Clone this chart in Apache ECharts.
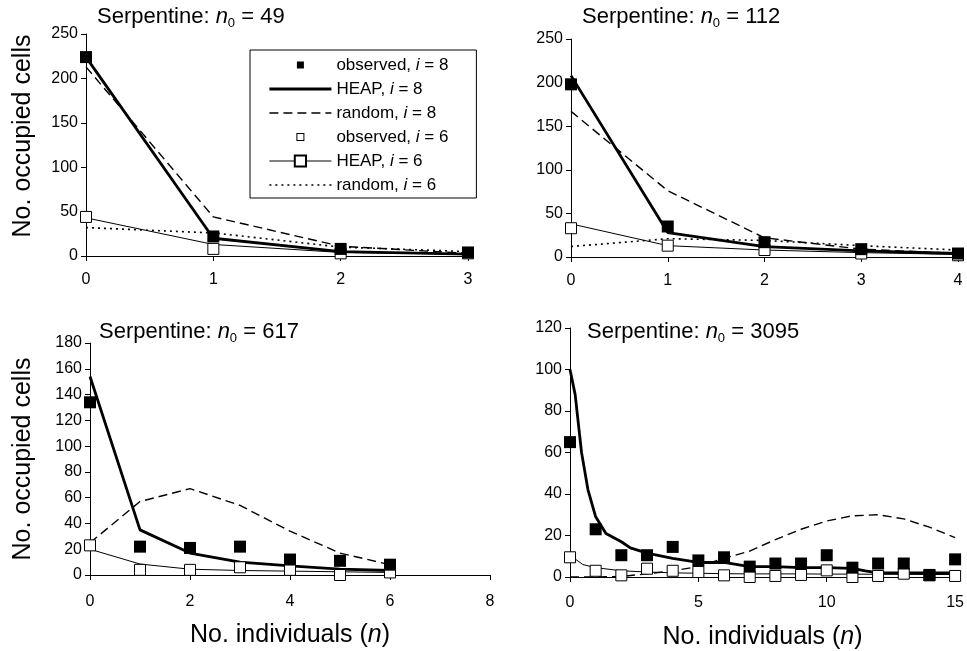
<!DOCTYPE html>
<html><head><meta charset="utf-8">
<script src="https://cdn.jsdelivr.net/npm/echarts@6/dist/echarts.min.js"></script>
<style>html,body{margin:0;padding:0;background:#fff}#c{width:967px;height:651px}</style>
</head><body><div id="c"></div>
<script>
// ---------- data ----------
const legendNames = ['observed, i = 8', 'HEAP, i = 8', 'random, i = 8', 'observed, i = 6', 'HEAP, i = 6', 'random, i = 6'];
const n0Values = [49, 112, 617, 3095];

// Panel 1 (n0 = 49)
const p1X = [0, 1, 2, 3];
const p1Obs8 = [224, 22, 8, 4];
const p1Heap8 = [224, 20, 5, 2];
const p1Rand8 = [213, 44, 11, 3];
const p1Obs6 = [44, 8, 3, 3];
const p1Heap6 = [43, 13, 4, 2];
const p1Rand6 = [32, 26, 10, 5];

// Panel 2 (n0 = 112)
const p2X = [0, 1, 2, 3, 4];
const p2Obs8 = [198, 35, 17, 9, 4];
const p2Heap8 = [208, 28, 12, 7, 4];
const p2Rand8 = [167, 76, 22, 9, 4];
const p2Obs6 = [33, 13, 8, 4, 2];
const p2Heap6 = [38, 13, 8, 5, 3];
const p2Rand6 = [12, 21, 19, 13, 8];

// Panel 3 (n0 = 617)
const p3X = [0, 1, 2, 3, 4, 5, 6];
const p3Obs8 = [134, 22, 21, 22, 12, 11, 8];
const p3Heap8 = [154, 35, 17, 10, 7, 4.5, 3.5];
const p3Rand8 = [25, 57, 67, 54, 34, 17, 8];
const p3Obs6 = [23, 4, 4, 6, 4, 0, 2];
const p3Heap6 = [20, 8.5, 4.5, 3.5, 3, 2.5, 2];

// Panel 4 (n0 = 3095)
const p4X = [0, 1, 2, 3, 4, 5, 6, 7, 8, 9, 10, 11, 12, 13, 14, 15];
const p4Obs8 = [65, 23, 10.5, 10.5, 14.5, 8, 9.5, 5, 6.5, 6.5, 10.5, 4.5, 6.5, 6.5, 1, 8.5];
const p4Rand8 = [0, 0, 0.3, 1.5, 3, 5, 9, 12.5, 18, 23, 27, 29.5, 30, 28, 24, 19];
const p4Obs6 = [9.5, 3, 0.8, 4, 3, 2.4, 0.8, 0, 0.5, 1, 3.2, 0, 0.5, 1.6, 0.8, 0.5];
const p4HeapX8 = [0, 0.2, 0.45, 0.7, 1, 1.4, 2, 2.35, 3, 4, 5, 6, 7, 8, 9, 10, 11, 11.5, 12, 13, 14, 15];
const p4Heap8 = [100, 88, 60, 42, 29, 21, 17, 14, 11.5, 9, 7, 7, 5, 5, 4.5, 4.5, 4.2, 3, 2, 2, 2, 2];
const p4HeapX6 = [0, 0.5, 1, 2, 3, 4, 5, 6, 7, 8, 9, 10, 11, 12, 13, 14, 15];
const p4Heap6 = [10.5, 6, 4.5, 3, 2.4, 2, 1.8, 1.6, 1.5, 1.5, 1.5, 1.4, 1.4, 1.3, 1.3, 1.2, 1.2];

const xMax = [3, 4, 8, 15];
const xInterval = [1, 1, 2, 5];
const yMax = [250, 250, 180, 120];
const yInterval = [50, 50, 20, 20];

// ---------- chart ----------
const FONT = 'Liberation Sans, Arial, sans-serif';
const pairs = (xs, ys) => xs.map((x, i) => [x, ys[i]]);

const grids = [
  { left: 86, top: 34, width: 382, height: 222 },
  { left: 571, top: 39, width: 387, height: 218 },
  { left: 90, top: 343, width: 400, height: 232 },
  { left: 570, top: 328, width: 387, height: 249 }
];
const xLabelMargin = [16, 16, 19, 18];

const xAxes = grids.map((g, i) => ({
  type: 'value', gridIndex: i, min: 0, max: xMax[i], interval: xInterval[i],
  axisLine: { show: true, onZero: false, lineStyle: { color: '#000', width: 1 } },
  axisTick: { show: true, length: 5, lineStyle: { color: '#000' } },
  axisLabel: { color: '#000', fontSize: 16, fontFamily: FONT, margin: xLabelMargin[i] },
  splitLine: { show: false },
  name: i >= 2 ? 'No. individuals ({it|n})' : '',
  nameLocation: 'middle', nameGap: 48,
  nameTextStyle: { fontSize: 25, color: '#000', fontFamily: FONT, rich: { it: { fontSize: 25, fontStyle: 'italic', fontFamily: FONT, color: '#000' } } }
}));

const yAxes = grids.map((g, i) => ({
  type: 'value', gridIndex: i, min: 0, max: yMax[i], interval: yInterval[i],
  axisLine: { show: true, lineStyle: { color: '#000', width: 1 } },
  axisTick: { show: true, length: 5, lineStyle: { color: '#000' } },
  axisLabel: { color: '#000', fontSize: 16, fontFamily: FONT, margin: 8 },
  splitLine: { show: false },
  name: (i === 0 || i === 2) ? 'No. occupied cells' : '',
  nameLocation: 'middle', nameGap: i === 0 ? 50 : 54,
  nameTextStyle: { fontSize: 25, color: '#000', fontFamily: FONT, padding: i === 0 ? [0, 0, 0, 18] : 0 }
}));

function lineS(name, gi, xs, ys, lineStyle, extra) {
  return Object.assign({
    type: 'line', name, xAxisIndex: gi, yAxisIndex: gi, data: pairs(xs, ys),
    symbol: 'none', lineStyle: Object.assign({ color: '#000', opacity: 1 }, lineStyle),
    itemStyle: { color: '#000', opacity: 1 }, z: 2, silent: true, animation: false
  }, extra || {});
}
function obs8S(gi, xs, ys) {
  return { type: 'scatter', name: legendNames[0], xAxisIndex: gi, yAxisIndex: gi, data: pairs(xs, ys),
    symbol: 'rect', symbolSize: 12, itemStyle: { color: '#000', opacity: 1 }, z: 4, silent: true, animation: false };
}
function obs6S(gi, xs, ys) {
  return { type: 'scatter', name: legendNames[3], xAxisIndex: gi, yAxisIndex: gi, data: pairs(xs, ys),
    symbol: 'rect', symbolSize: 11, itemStyle: { color: '#fff', borderColor: '#000', borderWidth: 1, opacity: 1 }, z: 3, silent: true, animation: false };
}
const heap8Style = { width: 2.8, type: 'solid' };
const rand8Style = { width: 1.4, type: [9, 5] };
const heap6Style = { width: 1, type: 'solid' };
const rand6Style = { width: 1.6, type: [2, 4] };
const heap6Extra = { symbol: 'emptyRect', showSymbol: false };

const series = [
  // panel 1
  lineS(legendNames[2], 0, p1X, p1Rand8, rand8Style),
  lineS(legendNames[5], 0, p1X, p1Rand6, rand6Style),
  lineS(legendNames[4], 0, p1X, p1Heap6, heap6Style, heap6Extra),
  lineS(legendNames[1], 0, p1X, p1Heap8, heap8Style),
  obs6S(0, p1X, p1Obs6), obs8S(0, p1X, p1Obs8),
  // panel 2
  lineS(legendNames[2], 1, p2X, p2Rand8, rand8Style),
  lineS(legendNames[5], 1, p2X, p2Rand6, rand6Style),
  lineS(legendNames[4], 1, p2X, p2Heap6, heap6Style, heap6Extra),
  lineS(legendNames[1], 1, p2X, p2Heap8, heap8Style),
  obs6S(1, p2X, p2Obs6), obs8S(1, p2X, p2Obs8),
  // panel 3
  lineS(legendNames[2], 2, p3X, p3Rand8, rand8Style),
  lineS(legendNames[4], 2, p3X, p3Heap6, heap6Style, heap6Extra),
  lineS(legendNames[1], 2, p3X, p3Heap8, heap8Style),
  obs6S(2, p3X, p3Obs6), obs8S(2, p3X, p3Obs8),
  // panel 4
  lineS(legendNames[2], 3, p4X, p4Rand8, rand8Style),
  lineS(legendNames[4], 3, p4HeapX6, p4Heap6, heap6Style, heap6Extra),
  lineS(legendNames[1], 3, p4HeapX8, p4Heap8, heap8Style),
  obs6S(3, p4X, p4Obs6), obs8S(3, p4X, p4Obs8)
];

const titlePos = [[97, 4], [582, 4], [99, 319], [587, 319]];
const titles = n0Values.map((n, i) => ({
  left: titlePos[i][0], top: titlePos[i][1], padding: 0,
  text: 'Serpentine: {it|n}{sub|0} = ' + n,
  textStyle: {
    fontSize: 22, fontWeight: 'normal', fontFamily: FONT, color: '#000', lineHeight: 26,
    rich: {
      it: { fontSize: 22, fontStyle: 'italic', fontFamily: FONT, color: '#000', lineHeight: 26 },
      sub: { fontSize: 13, fontFamily: FONT, color: '#000', lineHeight: 13, verticalAlign: 'bottom' }
    }
  }
}));

const filledIcon = 'path://M0,0M14,14M3.5,3.5L10.5,3.5L10.5,10.5L3.5,10.5Z';
const openIcon = 'path://M0,0M14,14M3,3L11,3L11,11L3,11ZM4,4L4,10L10,10L10,4Z';
const noSymbol = { opacity: 0 };

const option = {
  backgroundColor: '#fff',
  animation: false,
  title: titles,
  grid: grids,
  xAxis: xAxes,
  yAxis: yAxes,
  legend: {
    left: 250, top: 50, orient: 'vertical', align: 'left',
    itemWidth: 62, itemHeight: 14, itemGap: 6,
    padding: [6, 28, 4, 18],
    borderColor: '#000', borderWidth: 1, backgroundColor: '#fff',
    selectedMode: false,
    textStyle: { fontSize: 17, lineHeight: 18, fontFamily: FONT, color: '#000',
      rich: { it: { fontSize: 17, fontStyle: 'italic', fontFamily: FONT, color: '#000' } } },
    formatter: n => n.replace(', i =', ', {it|i} ='),
    data: [
      { name: legendNames[0], icon: filledIcon, itemStyle: { color: '#000', borderWidth: 0, opacity: 1 } },
      { name: legendNames[1], itemStyle: noSymbol, lineStyle: { width: 2.8, type: 'solid', color: '#000' } },
      { name: legendNames[2], itemStyle: noSymbol, lineStyle: { width: 1.4, type: [9, 5], color: '#000' } },
      { name: legendNames[3], icon: openIcon, itemStyle: { color: '#000', borderWidth: 0, opacity: 1 } },
      { name: legendNames[4], lineStyle: { width: 1, type: 'solid', color: '#000' } },
      { name: legendNames[5], itemStyle: noSymbol, lineStyle: { width: 1.6, type: [2, 4], color: '#000' } }
    ]
  },
  series
};

const chart = echarts.init(document.getElementById('c'), null, { renderer: 'canvas' });
chart.setOption(option);
</script></body></html>
